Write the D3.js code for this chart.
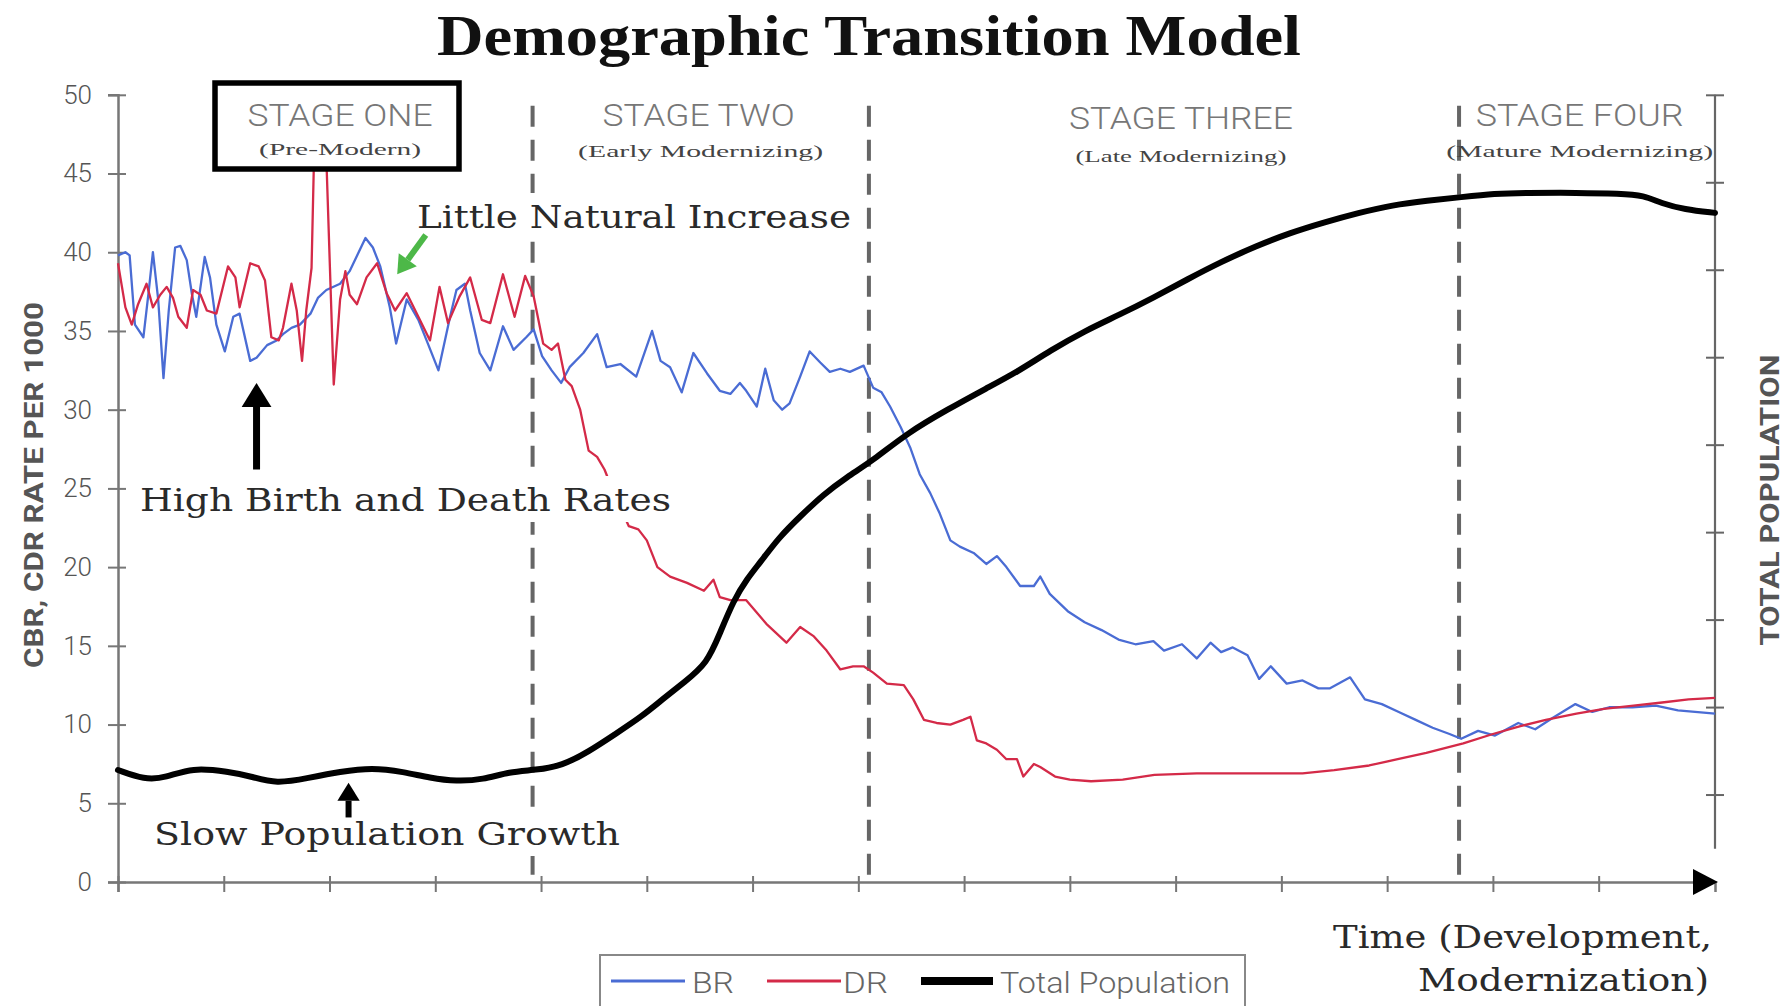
<!DOCTYPE html>
<html><head><meta charset="utf-8">
<script src="https://cdn.jsdelivr.net/npm/d3@7"></script>
<style>html,body{margin:0;padding:0;background:#fff;} svg{display:block;}</style>
</head><body>
<svg id="chart" width="1790" height="1006"></svg>
<script>
// ---------------- DATA ----------------
const chartTitle = "Demographic Transition Model";
const rateTicks = [0, 5, 10, 15, 20, 25, 30, 35, 40, 45, 50];
const popTicks = [1, 2, 3, 4, 5, 6, 7, 8, 9];
const timeTicks = [0, 10, 20, 30, 40, 50, 60, 70, 80, 90, 100, 110, 120, 130, 140];
const stageBreaks = [39.2, 71.0, 126.8];
const stageNames = ["STAGE ONE", "STAGE TWO", "STAGE THREE", "STAGE FOUR"];
const stageSubtitles = ["(Pre-Modern)", "(Early Modernizing)", "(Late Modernizing)", "(Mature Modernizing)"];
const seriesNames = ["BR", "DR", "Total Population"];

// [time, crude birth rate per 1000]
const birthRate = [
 [0,39.8],[0.7,40.0],[1.1,39.8],[1.6,35.4],[2.4,34.6],[2.9,37.5],[3.3,40.0],[3.8,37.0],[4.3,32.0],[4.8,36.3],
 [5.4,40.3],[5.9,40.4],[6.5,39.5],[7.0,37.3],[7.4,35.9],[8.2,39.7],[8.7,38.4],[9.3,35.4],[10.1,33.7],[10.9,35.9],
 [11.5,36.1],[12.5,33.1],[13.1,33.3],[14.1,34.1],[15.0,34.4],[15.6,34.8],[16.4,35.2],[17.2,35.4],[18.2,36.1],[18.9,37.1],
 [19.7,37.6],[21.0,38.0],[21.9,38.8],[23.4,40.9],[24.1,40.3],[24.8,39.1],[25.7,36.5],[26.3,34.2],[27.3,37.0],[28.4,35.7],
 [29.3,34.2],[30.3,32.5],[31.4,35.9],[32.0,37.6],[32.8,38.0],[33.3,36.3],[34.2,33.6],[35.2,32.5],[36.4,35.3],[37.4,33.8],
 [38.6,34.6],[39.3,35.1],[40.1,33.4],[41.0,32.5],[41.9,31.7],[42.7,32.7],[44.0,33.6],[45.3,34.8],[46.2,32.7],[47.5,32.9],
 [49.0,32.1],[50.5,35.0],[51.3,33.1],[52.2,32.7],[53.3,31.1],[54.4,33.6],[55.7,32.3],[56.9,31.2],[57.9,31.0],[58.8,31.7],
 [59.4,31.2],[60.4,30.2],[61.2,32.6],[62.0,30.6],[62.8,30.0],[63.5,30.4],[64.5,32.1],[65.4,33.7],[66.4,33.0],[67.3,32.4],
 [68.3,32.6],[69.2,32.4],[70.5,32.8],[71.4,31.4],[72.2,31.1],[73.0,30.2],[74.0,28.9],[74.9,27.6],[75.8,25.9],[76.8,24.7],
 [77.7,23.4],[78.7,21.7],[79.6,21.3],[80.9,20.9],[82.1,20.2],[83.1,20.7],[84.0,20.0],[85.3,18.8],[86.6,18.8],[87.2,19.4],
 [88.1,18.3],[89.8,17.2],[91.4,16.5],[93.0,16.0],[94.6,15.4],[96.2,15.1],[97.9,15.3],[98.9,14.7],[100.6,15.1],[102.0,14.2],
 [103.3,15.2],[104.3,14.6],[105.4,14.9],[106.8,14.4],[107.9,12.9],[109.0,13.7],[110.5,12.6],[112.0,12.8],[113.5,12.3],[114.6,12.3],
 [116.5,13.0],[117.9,11.6],[119.5,11.3],[121.1,10.8],[122.7,10.3],[124.3,9.8],[125.9,9.4],[127.0,9.1],[128.6,9.6],[130.2,9.3],
 [132.4,10.1],[134.0,9.7],[135.6,10.4],[137.8,11.3],[139.4,10.8],[141.0,11.1],[143.2,11.1],[145.4,11.2],[147.5,10.9],[151,10.7]
];

// [time, crude death rate per 1000]
const deathRate = [
 [0,39.3],[0.7,36.5],[1.3,35.4],[1.9,36.7],[2.7,38.0],[3.3,36.5],[4.0,37.3],[4.6,37.8],[5.2,37.1],[5.7,35.9],
 [6.5,35.2],[7.1,37.6],[7.8,37.3],[8.4,36.3],[9.3,36.1],[10.4,39.1],[11.1,38.4],[11.5,36.5],[12.5,39.3],[13.3,39.1],
 [13.9,38.2],[14.5,34.6],[15.2,34.4],[15.6,35.2],[16.4,38.0],[16.9,36.3],[17.4,33.1],[17.8,36.3],[18.3,39.0],[18.6,48.0],
 [19.6,48.0],[20.4,31.6],[21.0,37.0],[21.5,38.8],[21.9,37.3],[22.6,36.7],[23.5,38.4],[24.5,39.3],[25.4,37.4],[26.2,36.3],
 [27.3,37.4],[28.4,35.9],[29.5,34.4],[30.4,37.8],[31.2,35.5],[32.3,37.2],[33.3,38.4],[34.4,35.7],[35.2,35.5],[36.4,38.6],
 [37.5,35.9],[38.5,38.5],[39.3,37.2],[40.2,34.2],[41.0,33.8],[41.6,34.2],[42.3,31.9],[42.9,31.5],[43.7,30.0],[44.5,27.4],
 [45.3,27.0],[46.0,26.2],[47.0,24.5],[48.3,22.6],[49.2,22.4],[50.0,21.7],[51.0,20.0],[52.2,19.4],[53.8,19.0],[55.4,18.5],
 [56.3,19.2],[56.9,18.1],[57.9,17.9],[59.4,17.9],[61.3,16.4],[63.2,15.2],[64.5,16.2],[65.8,15.6],[67.0,14.7],[68.3,13.5],
 [69.5,13.7],[70.5,13.7],[71.4,13.3],[72.7,12.6],[74.3,12.5],[75.2,11.6],[76.2,10.3],[77.4,10.1],[78.7,10.0],[79.9,10.3],
 [80.6,10.5],[81.2,9.0],[82.1,8.8],[83.1,8.4],[84.0,7.8],[85.0,7.8],[85.6,6.7],[86.6,7.5],[87.2,7.3],[88.6,6.7],
 [90.0,6.5],[92.0,6.4],[95.0,6.5],[98.0,6.8],[102.0,6.9],[108.0,6.9],[112.0,6.9],[115.0,7.1],[118.3,7.4],[121.0,7.8],
 [123.7,8.2],[127.2,8.8],[130.0,9.4],[132.6,9.9],[135.0,10.3],[137.9,10.7],[140.5,11.0],[143.3,11.2],[146.0,11.4],[148.5,11.6],
 [151,11.7]
];

// [time, total population (right axis units)]
const population = [
 [0,1.28],[2.5,1.17],[4.5,1.19],[7,1.31],[10.5,1.26],[12.5,1.21],[15,1.12],[18,1.19],[21,1.26],[24,1.31],
 [27,1.26],[29.5,1.19],[32,1.15],[34.5,1.17],[37,1.26],[39.5,1.28],[42,1.33],[44.5,1.49],[47,1.69],[49.5,1.89],
 [51.5,2.09],[53.6,2.29],[55.7,2.50],[56.9,2.84],[58.2,3.22],[59.5,3.47],[60.7,3.65],[62.5,3.94],[64.5,4.18],[66.7,4.43],
 [68.9,4.63],[71.4,4.82],[74.6,5.13],[78.4,5.40],[82.2,5.65],[85,5.83],[88.2,6.08],[91.4,6.30],[94.6,6.48],[97.9,6.68],
 [101.1,6.89],[104.3,7.09],[107.6,7.27],[110.8,7.42],[114,7.54],[117.3,7.65],[120.5,7.74],[123.8,7.79],[127,7.83],[130.2,7.87],
 [133,7.88],[138,7.88],[142,7.87],[144.3,7.85],[145.9,7.76],[148.1,7.69],[151,7.65]
];

// ---------------- LAYOUT / STYLE ----------------
const sans = "Roboto, 'Liberation Sans', Arial, sans-serif";
const serif = "'DejaVu Serif', 'Liberation Serif', serif";
const titleSerif = "'Liberation Serif', 'Times New Roman', serif";
const colors = { br: "#4a6cd4", dr: "#d42a48", pop: "#000", axis: "#777", dash: "#666" };

const svg = d3.select("#chart");
svg.append("rect").attr("width", 1790).attr("height", 1006).attr("fill", "#fff");

const x = d3.scaleLinear().domain([0, 151]).range([118, 1715]);
const yRate = d3.scaleLinear().domain([0, 50]).range([882, 94.8]);
const yPop = d3.scaleLinear().domain([0, 9]).range([882, 94.8]);

// Title
svg.append("text").attr("x", 869).attr("y", 55).attr("text-anchor", "middle")
  .attr("font-family", titleSerif).attr("font-weight", "bold").attr("font-size", 58)
  .attr("textLength", 864).attr("lengthAdjust", "spacingAndGlyphs").attr("fill", "#111")
  .text(chartTitle);

// Left axis
const gL = svg.append("g").attr("transform", `translate(${x(0)},0)`)
  .call(d3.axisLeft(yRate).tickValues(rateTicks).tickSizeOuter(0).tickSize(10));
gL.select(".domain").attr("stroke", colors.axis).attr("stroke-width", 2.5);
gL.selectAll(".tick line").attr("x1", 8).attr("x2", -10).attr("stroke", colors.axis).attr("stroke-width", 2);
gL.selectAll(".tick text").attr("x", -26).attr("font-family", sans).attr("font-size", 26)
  .attr("font-weight", 300).attr("fill", "#555");

// Bottom axis
const gX = svg.append("g").attr("transform", `translate(0,${yRate(0)})`)
  .call(d3.axisBottom(x).tickValues(timeTicks).tickSizeOuter(0).tickSize(10).tickFormat(""));
gX.select(".domain").attr("stroke", colors.axis).attr("stroke-width", 2.5);
gX.selectAll(".tick line").attr("y1", -6).attr("y2", 10).attr("stroke", colors.axis).attr("stroke-width", 2);
svg.append("path")
  .attr("d", `M${x(151) + 3},${yRate(0)} L${x(151) - 22},${yRate(0) - 13} L${x(151) - 22},${yRate(0) + 13} Z`)
  .attr("fill", "#000");

// Right axis
const gR = svg.append("g").attr("transform", `translate(${x(151)},0)`)
  .call(d3.axisRight(yPop).tickValues(popTicks).tickSizeOuter(0).tickFormat(""));
gR.select(".domain").remove();
gR.append("line").attr("x1", 0).attr("x2", 0).attr("y1", yPop(9)).attr("y2", yPop(0.38))
  .attr("stroke", "#666").attr("stroke-width", 2.2);
gR.selectAll(".tick line").attr("x1", -9).attr("x2", 9).attr("stroke", "#666").attr("stroke-width", 2);

// Axis titles
svg.append("text").attr("transform", "translate(43,485) rotate(-90)").attr("text-anchor", "middle")
  .attr("font-family", sans).attr("font-weight", "bold").attr("font-size", 25).attr("fill", "#555")
  .attr("textLength", 366).attr("lengthAdjust", "spacingAndGlyphs")
  .text("CBR, CDR RATE PER 1000");
svg.append("text").attr("transform", "translate(1779,500) rotate(-90)").attr("text-anchor", "middle")
  .attr("font-family", sans).attr("font-weight", "bold").attr("font-size", 25).attr("fill", "#555")
  .attr("textLength", 291).attr("lengthAdjust", "spacingAndGlyphs")
  .text("TOTAL POPULATION");

// Stage separators
svg.append("g").selectAll("line").data(stageBreaks).join("line")
  .attr("x1", d => x(d)).attr("x2", d => x(d))
  .attr("y1", yRate(49.3)).attr("y2", yRate(0))
  .attr("stroke", colors.dash).attr("stroke-width", 4).attr("stroke-dasharray", "21 13");

// Series
const rateLine = d3.line().x(d => x(d[0])).y(d => yRate(d[1]));
const popLine = d3.line().curve(d3.curveBasis).x(d => x(d[0])).y(d => yPop(d[1]));
svg.append("path").datum(birthRate).attr("d", rateLine).attr("fill", "none")
  .attr("stroke", colors.br).attr("stroke-width", 2.3).attr("stroke-linejoin", "round");
svg.append("path").datum(deathRate).attr("d", rateLine).attr("fill", "none")
  .attr("stroke", colors.dr).attr("stroke-width", 2.3).attr("stroke-linejoin", "round");
svg.append("path").datum(population).attr("d", popLine).attr("fill", "none")
  .attr("stroke", colors.pop).attr("stroke-width", 6).attr("stroke-linejoin", "round").attr("stroke-linecap", "round");

// Annotation text with white backing
function note(txt, xx, yy, len, anchor) {
  const g = svg.append("g");
  const t = g.append("text").attr("x", xx).attr("y", yy).attr("text-anchor", anchor || "start")
    .attr("font-family", serif).attr("font-size", 31).attr("fill", "#2a2a2a")
    .attr("textLength", len).attr("lengthAdjust", "spacingAndGlyphs").text(txt);
  const b = t.node().getBBox();
  g.insert("rect", "text").attr("x", b.x - 4).attr("y", b.y - 6).attr("width", b.width + 8)
    .attr("height", b.height + 10).attr("fill", "#fff");
}
note("Little Natural Increase", 417, 228, 434);
note("High Birth and Death Rates", 140, 511, 531);
note("Slow Population Growth", 154, 845, 466);
note("Time (Development,", 1712, 948, 379, "end");
note("Modernization)", 1709, 991, 291, "end");

// Arrows (positioned in data space)
function arrow(t0, v0, t1, v1, color, width, head) {
  const x0 = x(t0), y0 = yRate(v0), x1 = x(t1), y1 = yRate(v1);
  const ang = Math.atan2(y1 - y0, x1 - x0);
  const bx = x1 - Math.cos(ang) * head, by = y1 - Math.sin(ang) * head;
  svg.append("line").attr("x1", x0).attr("y1", y0).attr("x2", bx).attr("y2", by)
    .attr("stroke", color).attr("stroke-width", width);
  const px = Math.cos(ang + Math.PI / 2) * head * 0.62, py = Math.sin(ang + Math.PI / 2) * head * 0.62;
  svg.append("path").attr("d", `M${x1},${y1} L${bx + px},${by + py} L${bx - px},${by - py} Z`).attr("fill", color);
}
arrow(13.1, 26.2, 13.1, 31.7, "#000", 7, 24);
arrow(21.8, 4.1, 21.8, 6.3, "#000", 6, 18);
arrow(29.1, 41.1, 26.4, 38.6, "#4db848", 6, 18);

// Stage labels
const stageCenters = [21.0, 54.9, 100.5, 138.2];
const stageLen = [185, 192, 224, 208];
const subLen = [162, 245, 211, 267];
const stageTop = [126, 126, 129, 126];
const subBase = [155, 157, 162, 157];
svg.append("rect").attr("x", 215).attr("y", 83).attr("width", 244).attr("height", 86)
  .attr("fill", "#fff").attr("stroke", "#000").attr("stroke-width", 5.5);
stageNames.forEach((s, i) => {
  svg.append("text").attr("x", x(stageCenters[i])).attr("y", stageTop[i]).attr("text-anchor", "middle")
    .attr("font-family", sans).attr("font-weight", 300).attr("font-size", 31).attr("fill", "#777")
    .attr("textLength", stageLen[i]).attr("lengthAdjust", "spacingAndGlyphs").text(s);
  svg.append("text").attr("x", x(stageCenters[i]) + (i === 1 ? 2 : 0)).attr("y", subBase[i]).attr("text-anchor", "middle")
    .attr("font-family", titleSerif).attr("font-size", 17).attr("fill", "#444")
    .attr("textLength", subLen[i]).attr("lengthAdjust", "spacingAndGlyphs").text(stageSubtitles[i]);
});

// Legend
const lg = svg.append("g");
lg.append("rect").attr("x", 600).attr("y", 955).attr("width", 645).attr("height", 70)
  .attr("fill", "#fff").attr("stroke", "#888").attr("stroke-width", 2);
const legendItems = [
  { name: seriesNames[0], color: colors.br, w: 3, x0: 611, x1: 685, tx: 692, len: 42 },
  { name: seriesNames[1], color: colors.dr, w: 3, x0: 767, x1: 841, tx: 843, len: 45 },
  { name: seriesNames[2], color: "#000", w: 8, x0: 921, x1: 993, tx: 1000, len: 230 }
];
legendItems.forEach(it => {
  lg.append("line").attr("x1", it.x0).attr("x2", it.x1).attr("y1", 981).attr("y2", 981)
    .attr("stroke", it.color).attr("stroke-width", it.w);
  lg.append("text").attr("x", it.tx).attr("y", 993).attr("font-family", sans).attr("font-weight", 300)
    .attr("font-size", 30).attr("fill", "#666").attr("textLength", it.len)
    .attr("lengthAdjust", "spacingAndGlyphs").text(it.name);
});
</script>
</body></html>
